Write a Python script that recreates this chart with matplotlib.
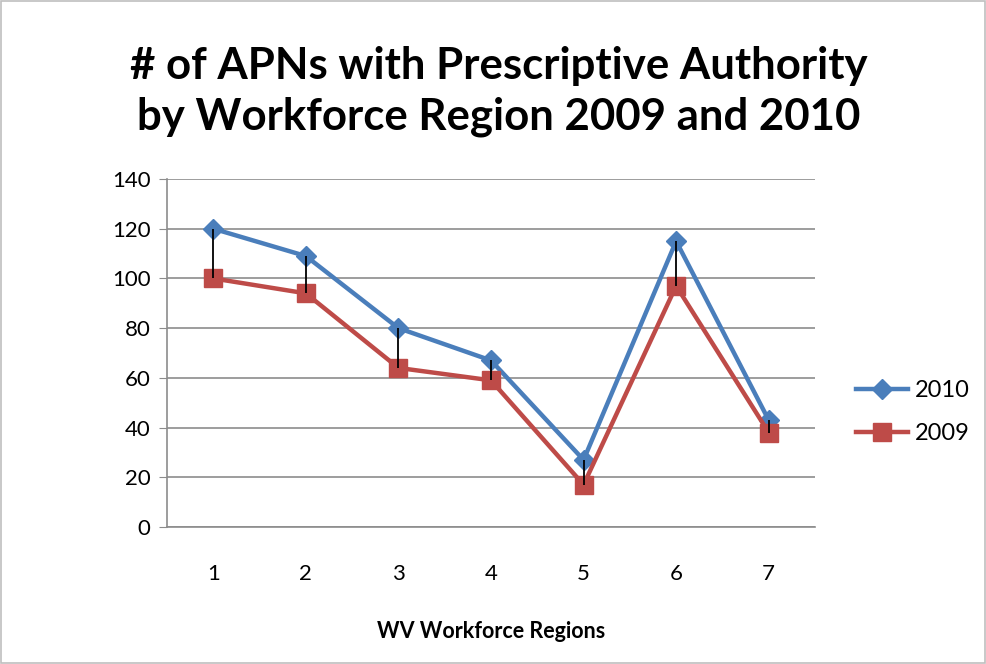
import numpy as np
import matplotlib
matplotlib.use("Agg")
import matplotlib.pyplot as plt
from matplotlib.patches import Rectangle

# Data
regions = [1, 2, 3, 4, 5, 6, 7]
apn_2010 = [120, 109, 80, 67, 27, 115, 43]
apn_2009 = [100, 94, 64, 59, 17, 97, 38]

blue = "#4A7EBB"
red = "#BE4B48"
grid_gray = "#8C8C8C"

plt.rcParams['font.family'] = ['Lato', 'DejaVu Sans']

fig = plt.figure(figsize=(9.87, 6.64), dpi=100)
ax = fig.add_axes([167 / 987, 1 - 527 / 664, (815 - 167) / 987, (527 - 179) / 664])

# high-low lines between the two series
ax.vlines(regions, apn_2009, apn_2010, color="black", linewidth=1.3, zorder=4)

ax.plot(regions, apn_2010, color=blue, linewidth=3.2, marker="D", markersize=10,
        label="2010", zorder=3)
ax.plot(regions, apn_2009, color=red, linewidth=3.2, marker="s", markersize=13,
        label="2009", zorder=3)

ax.set_xlim(0.5, 7.5)
ax.set_ylim(0, 140)
ax.set_yticks(np.arange(0, 141, 20))
ax.set_xticks(regions)
ax.grid(axis="y", color=grid_gray, linewidth=1.2)
ax.set_axisbelow(True)
for side in ["top", "right"]:
    ax.spines[side].set_visible(False)
ax.spines["left"].set_color(grid_gray)
ax.spines["bottom"].set_color(grid_gray)
ax.spines["left"].set_linewidth(1.2)
ax.spines["bottom"].set_linewidth(1.2)
ax.tick_params(axis="y", length=6, color=grid_gray, labelsize=16, pad=6)
ax.tick_params(axis="x", length=0, labelsize=16, pad=27)

ax.set_xlabel("WV Workforce Regions", fontsize=15.5, fontweight="bold", labelpad=26)

fig.text(0.505, 0.862, "# of APNs with Prescriptive Authority\nby Workforce Region 2009 and 2010",
         ha="center", va="center", fontsize=31.5, fontweight="bold", linespacing=1.3)

fig.legend(loc="center left", bbox_to_anchor=(851 / 987, 1 - 412 / 664), frameon=False,
           fontsize=17, handlelength=2.2, labelspacing=0.95, handletextpad=0.3,
           borderaxespad=0, borderpad=0.2)

# chart border
fig.patches.append(Rectangle((0.001, 0.002), 0.997, 0.996, transform=fig.transFigure,
                             fill=False, edgecolor="#BFBFBF", linewidth=1.2))

fig.savefig("out.png", dpi=100)
